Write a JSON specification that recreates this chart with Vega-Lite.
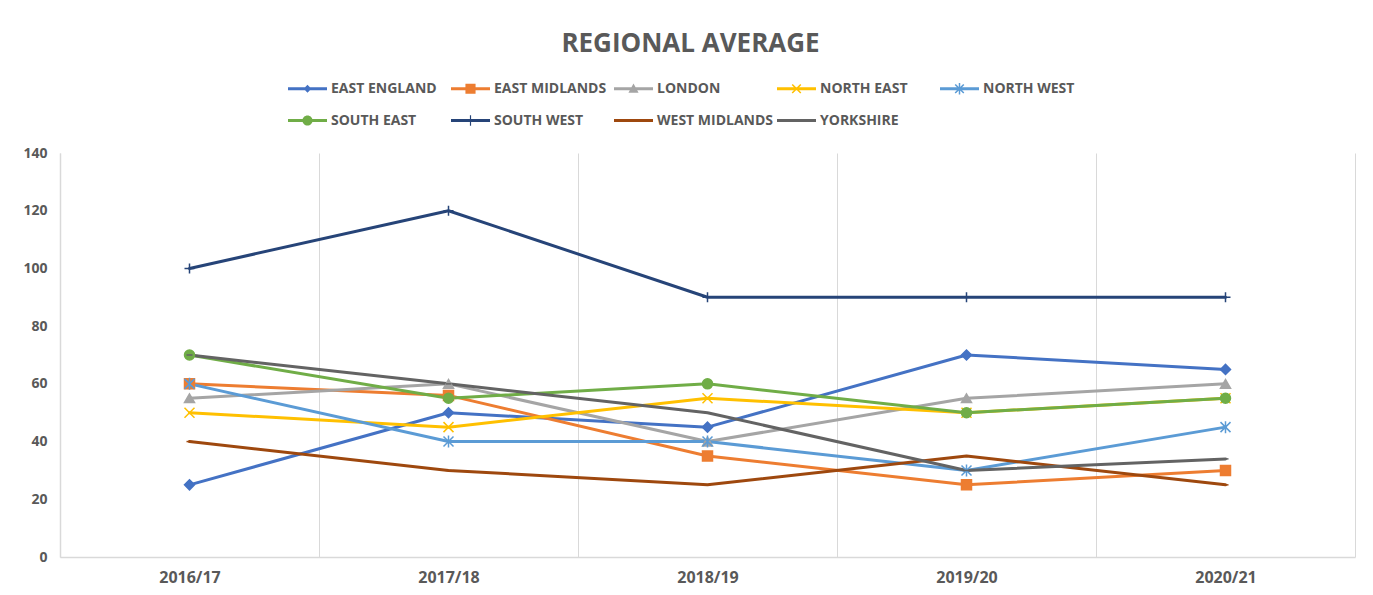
{
  "$schema": "https://vega.github.io/schema/vega-lite/v6.json",
  "width": 1295,
  "height": 404,
  "autosize": {"type": "none"},
  "padding": {"left": 60, "top": 153, "right": 18, "bottom": 38},
  "background": "white",
  "title": {
    "text": "REGIONAL AVERAGE",
    "font": "Open Sans",
    "fontSize": 26,
    "fontWeight": "bold",
    "color": "#595959",
    "anchor": "middle",
    "dx": -17,
    "offset": 12
  },
  "data": {
    "values": [
      {"year": "2016/17", "region": "EAST ENGLAND", "value": 25},
      {"year": "2017/18", "region": "EAST ENGLAND", "value": 50},
      {"year": "2018/19", "region": "EAST ENGLAND", "value": 45},
      {"year": "2019/20", "region": "EAST ENGLAND", "value": 70},
      {"year": "2020/21", "region": "EAST ENGLAND", "value": 65},
      {"year": "2016/17", "region": "EAST MIDLANDS", "value": 60},
      {"year": "2017/18", "region": "EAST MIDLANDS", "value": 56},
      {"year": "2018/19", "region": "EAST MIDLANDS", "value": 35},
      {"year": "2019/20", "region": "EAST MIDLANDS", "value": 25},
      {"year": "2020/21", "region": "EAST MIDLANDS", "value": 30},
      {"year": "2016/17", "region": "LONDON", "value": 55},
      {"year": "2017/18", "region": "LONDON", "value": 60},
      {"year": "2018/19", "region": "LONDON", "value": 40},
      {"year": "2019/20", "region": "LONDON", "value": 55},
      {"year": "2020/21", "region": "LONDON", "value": 60},
      {"year": "2016/17", "region": "NORTH EAST", "value": 50},
      {"year": "2017/18", "region": "NORTH EAST", "value": 45},
      {"year": "2018/19", "region": "NORTH EAST", "value": 55},
      {"year": "2019/20", "region": "NORTH EAST", "value": 50},
      {"year": "2020/21", "region": "NORTH EAST", "value": 55},
      {"year": "2016/17", "region": "NORTH WEST", "value": 60},
      {"year": "2017/18", "region": "NORTH WEST", "value": 40},
      {"year": "2018/19", "region": "NORTH WEST", "value": 40},
      {"year": "2019/20", "region": "NORTH WEST", "value": 30},
      {"year": "2020/21", "region": "NORTH WEST", "value": 45},
      {"year": "2016/17", "region": "SOUTH EAST", "value": 70},
      {"year": "2017/18", "region": "SOUTH EAST", "value": 55},
      {"year": "2018/19", "region": "SOUTH EAST", "value": 60},
      {"year": "2019/20", "region": "SOUTH EAST", "value": 50},
      {"year": "2020/21", "region": "SOUTH EAST", "value": 55},
      {"year": "2016/17", "region": "SOUTH WEST", "value": 100},
      {"year": "2017/18", "region": "SOUTH WEST", "value": 120},
      {"year": "2018/19", "region": "SOUTH WEST", "value": 90},
      {"year": "2019/20", "region": "SOUTH WEST", "value": 90},
      {"year": "2020/21", "region": "SOUTH WEST", "value": 90},
      {"year": "2016/17", "region": "WEST MIDLANDS", "value": 40},
      {"year": "2017/18", "region": "WEST MIDLANDS", "value": 30},
      {"year": "2018/19", "region": "WEST MIDLANDS", "value": 25},
      {"year": "2019/20", "region": "WEST MIDLANDS", "value": 35},
      {"year": "2020/21", "region": "WEST MIDLANDS", "value": 25},
      {"year": "2016/17", "region": "YORKSHIRE", "value": 70},
      {"year": "2017/18", "region": "YORKSHIRE", "value": 60},
      {"year": "2018/19", "region": "YORKSHIRE", "value": 50},
      {"year": "2019/20", "region": "YORKSHIRE", "value": 30},
      {"year": "2020/21", "region": "YORKSHIRE", "value": 34}
    ]
  },
  "encoding": {
    "x": {
      "field": "year",
      "type": "ordinal",
      "bandPosition": 0.5,
      "scale": {"type": "band", "paddingInner": 0, "paddingOuter": 0},
      "axis": {
        "title": null,
        "labelAngle": 0,
        "ticks": false,
        "tickBand": "extent",
        "grid": true,
        "gridColor": "#d9d9d9",
        "gridWidth": 1,
        "domainColor": "#d9d9d9",
        "domainWidth": 1.5,
        "labelFont": "Open Sans",
        "labelFontSize": 16,
        "labelFontWeight": "bold",
        "labelColor": "#595959",
        "labelPadding": 12
      }
    },
    "y": {
      "field": "value",
      "type": "quantitative",
      "scale": {"domain": [0, 140], "nice": false},
      "axis": {
        "title": null,
        "values": [0, 20, 40, 60, 80, 100, 120, 140],
        "ticks": false,
        "grid": false,
        "domainColor": "#d9d9d9",
        "domainWidth": 1.5,
        "labelFont": "Open Sans",
        "labelFontSize": 14,
        "labelFontWeight": "bold",
        "labelColor": "#595959",
        "labelPadding": 13
      }
    }
  },
  "layer": [
    {
      "mark": {"type": "line", "strokeWidth": 3, "strokeJoin": "round", "strokeCap": "round"},
      "encoding": {
        "color": {
          "field": "region",
          "type": "nominal",
          "scale": {
            "domain": ["EAST ENGLAND", "EAST MIDLANDS", "LONDON", "NORTH EAST", "NORTH WEST", "SOUTH EAST", "SOUTH WEST", "WEST MIDLANDS", "YORKSHIRE"],
            "range": ["#4472C4", "#ED7D31", "#A5A5A5", "#FFC000", "#5B9BD5", "#70AD47", "#264478", "#9E480E", "#636363"]
          },
          "legend": {
            "title": null,
            "orient": "none",
            "direction": "horizontal",
            "legendX": 228,
            "legendY": -84,
            "columns": 5,
            "gridAlign": "all",
            "columnPadding": 3,
            "rowPadding": 5,
            "padding": 0,
            "symbolOffset": 0,
            "symbolSize": 1521,
            "symbolStrokeWidth": 3,
            "labelFont": "Open Sans",
            "labelFontSize": 14,
            "labelFontWeight": "bold",
            "labelColor": "#595959",
            "labelOffset": 4,
            "labelLimit": 0,
            "encode": {
              "symbols": {
                "update": {
                  "shape": {"signal": "datum.value === 'EAST ENGLAND' ? 'M-1,-0.077L1,-0.077L1,0.077L-1,0.077ZM0,-0.2L0.2,0L0,0.2L-0.2,0Z' : datum.value === 'EAST MIDLANDS' ? 'M-1,-0.077L1,-0.077L1,0.077L-1,0.077ZM-0.26,-0.26L0.26,-0.26L0.26,0.26L-0.26,0.26Z' : datum.value === 'LONDON' ? 'M-1,-0.077L1,-0.077L1,0.077L-1,0.077ZM0,-0.27L0.26,0.2L-0.26,0.2Z' : datum.value === 'NORTH EAST' ? 'M-1,-0.077L1,-0.077L1,0.077L-1,0.077ZM-0.192,-0.248L0.248,0.192L0.192,0.248L-0.248,-0.192ZM-0.192,0.248L-0.248,0.192L0.192,-0.248L0.248,-0.192Z' : datum.value === 'NORTH WEST' ? 'M-1,-0.077L1,-0.077L1,0.077L-1,0.077ZM-0.192,-0.248L0.248,0.192L0.192,0.248L-0.248,-0.192ZM-0.192,0.248L-0.248,0.192L0.192,-0.248L0.248,-0.192ZM-0.038,-0.29L0.038,-0.29L0.038,0.29L-0.038,0.29Z' : datum.value === 'SOUTH EAST' ? 'M-1,-0.077L1,-0.077L1,0.077L-1,0.077ZM0.26,0A0.26,0.26,0,1,1,-0.26,0A0.26,0.26,0,1,1,0.26,0Z' : datum.value === 'SOUTH WEST' ? 'M-1,-0.077L1,-0.077L1,0.077L-1,0.077ZM-0.03,-0.27L0.03,-0.27L0.03,0.27L-0.03,0.27Z' : 'M-1,-0.077L1,-0.077L1,0.077L-1,0.077Z'"},
                  "fill": {"scale": "color", "field": "value"},
                  "stroke": {"value": "transparent"},
                  "strokeWidth": {"value": 0},
                  "opacity": {"value": 1}
                }
              }
            }
          }
        }
      }
    },
    {
      "mark": {
        "type": "point",
        "size": 100,
        "strokeWidth": 1.5,
        "opacity": 1,
        "shape": {"expr": "datum.region === 'EAST ENGLAND' ? 'diamond' : datum.region === 'EAST MIDLANDS' ? 'square' : datum.region === 'LONDON' ? 'triangle-up' : datum.region === 'NORTH EAST' ? 'M-1,-1L1,1M-1,1L1,-1' : datum.region === 'NORTH WEST' ? 'M-1,-1L1,1M-1,1L1,-1M0,-1.2L0,1.2' : datum.region === 'SOUTH EAST' ? 'circle' : datum.region === 'SOUTH WEST' ? 'M-1,0L1,0M0,-1L0,1' : 'M-0.6,0L0.6,0'"}
      },
      "encoding": {
        "fill": {
          "field": "region",
          "type": "nominal",
          "scale": {
            "domain": ["EAST ENGLAND", "EAST MIDLANDS", "LONDON", "NORTH EAST", "NORTH WEST", "SOUTH EAST", "SOUTH WEST", "WEST MIDLANDS", "YORKSHIRE"],
            "range": ["#4472C4", "#ED7D31", "#A5A5A5", "#FFC000", "#5B9BD5", "#70AD47", "#264478", "#9E480E", "#636363"]
          },
          "legend": null
        },
        "stroke": {
          "field": "region",
          "type": "nominal",
          "scale": {
            "domain": ["EAST ENGLAND", "EAST MIDLANDS", "LONDON", "NORTH EAST", "NORTH WEST", "SOUTH EAST", "SOUTH WEST", "WEST MIDLANDS", "YORKSHIRE"],
            "range": ["#4472C4", "#ED7D31", "#A5A5A5", "#FFC000", "#5B9BD5", "#70AD47", "#264478", "#9E480E", "#636363"]
          },
          "legend": null
        }
      }
    }
  ],
  "config": {
    "view": {"stroke": null}
  }
}
